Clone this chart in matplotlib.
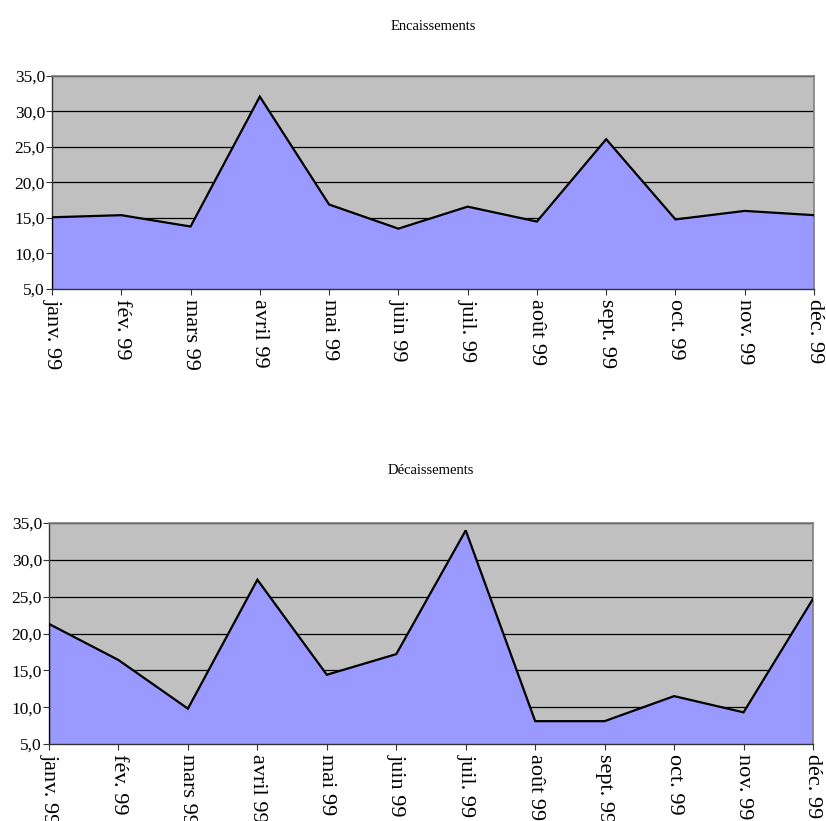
import matplotlib
matplotlib.use("Agg")
import matplotlib.pyplot as plt
import numpy as np

plt.rcParams['font.family'] = ['Liberation Serif', 'DejaVu Serif']

Months = ["janv. 99", "fév. 99", "mars 99", "avril 99", "mai 99", "juin 99",
          "juil. 99", "août 99", "sept. 99", "oct. 99", "nov. 99", "déc. 99"]

Encaissements = [15.1, 15.4, 13.8, 32.1, 16.9, 13.5,
                 16.6, 14.5, 26.1, 14.8, 16.0, 15.4]
Decaissements = [21.3, 16.4, 9.8, 27.3, 14.4, 17.2,
                 34.0, 8.1, 8.1, 11.5, 9.3, 24.7]

Titles = ["Encaissements", "Décaissements"]
YTicks = [5, 10, 15, 20, 25, 30, 35]
YTickLabels = ["5,0", "10,0", "15,0", "20,0", "25,0", "30,0", "35,0"]

FILL = '#9999FF'
BACK = '#C0C0C0'

W, H = 826, 821
fig = plt.figure(figsize=(W / 100, H / 100), dpi=100)

# axes boxes in pixels: left, top, right, bottom
boxes = [(52, 76, 814, 289), (49, 523, 813, 744)]
titleY = [27, 471]

for k, (vals, title) in enumerate(zip([Encaissements, Decaissements], Titles)):
    l, t, r, b = boxes[k]
    ax = fig.add_axes([l / W, 1 - b / H, (r - l) / W, (b - t) / H])
    ax.set_facecolor(BACK)
    x = np.arange(len(vals))
    ax.fill_between(x, vals, YTicks[0], color=FILL, zorder=2, linewidth=0)
    # series border, left edge included
    ax.plot(np.concatenate([[0], x]), np.concatenate([[YTicks[0]], vals]),
            color='black', linewidth=1.6, zorder=3, solid_joinstyle='miter')
    ax.set_xlim(0, len(vals) - 1)
    ax.set_ylim(YTicks[0], YTicks[-1])
    ax.set_yticks(YTicks)
    ax.set_yticklabels(YTickLabels, fontsize=12.5)
    ax.set_xticks(x)
    ax.set_xticklabels(Months, rotation=-90, fontsize=16, va='top', ha='center')
    ax.grid(axis='y', color='black', linewidth=0.9, zorder=1)
    ax.set_axisbelow(True)
    ax.tick_params(axis='both', direction='out', length=4, width=0.8, color='#333333', pad=3)
    ax.tick_params(axis='y', pad=1)
    for s in ['top', 'right']:
        ax.spines[s].set_color('#808080')
        ax.spines[s].set_linewidth(1.2)
    for s in ['left', 'bottom']:
        ax.spines[s].set_color('#333333')
        ax.spines[s].set_linewidth(1.0)
    fig.text(0.5 * (l + r) / W + 0.0, 1 - titleY[k] / H, title,
             ha='center', va='center', fontsize=10.5)

fig.savefig("out.png", dpi=100)
